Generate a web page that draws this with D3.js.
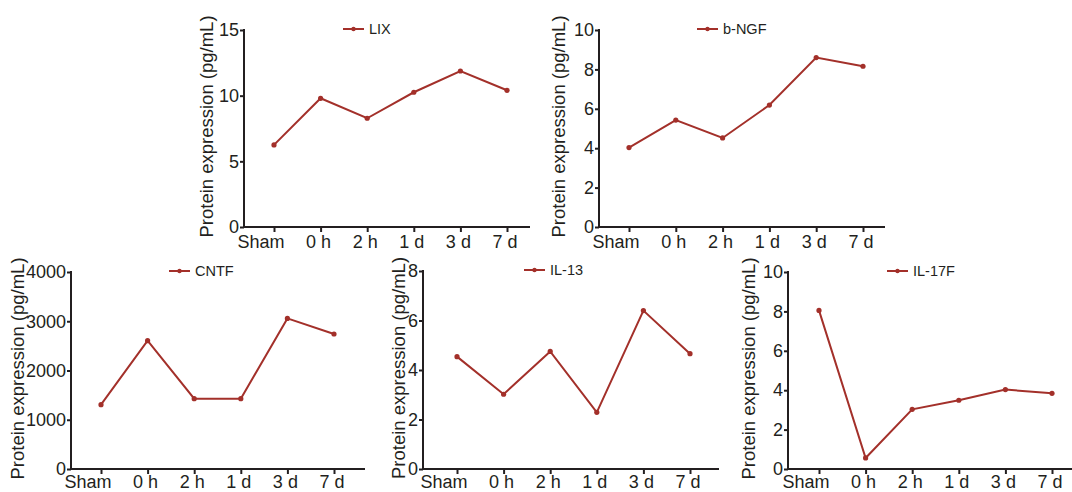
<!DOCTYPE html>
<html>
<head>
    <script src="https://d3js.org/d3.v7.min.js"></script>
    <style>
        body { margin: 0; background: #fff; }
        svg { display: block; }
        text { font-family: 'Liberation Sans', Arial, sans-serif; fill: #231f20; }
        .tick text { font-size: 18px; }
        .ylabel { font-size: 18.5px; }
        .legend text { font-size: 14.5px; }
    </style>
</head>
<body>
    <svg width="1072" height="492"></svg>
    <script>
        // time points shared by every panel
        const timepoints = ["Sham", "0 h", "2 h", "1 d", "3 d", "7 d"];

        // protein values (pg/mL)
        const lixValues  = [6.25, 9.8, 8.28, 10.26, 11.88, 10.41];
        const ngfValues  = [4.03, 5.43, 4.52, 6.19, 8.6, 8.16];
        const cntfValues = [1306, 2605, 1428, 1428, 3058, 2741];
        const il13Values = [4.54, 3.02, 4.75, 2.29, 6.4, 4.66];
        const il17Values = [8.05, 0.56, 3.03, 3.49, 4.03, 3.84];

        // y tick values
        const lixTicks  = [0, 5, 10, 15];
        const ngfTicks  = [0, 2, 4, 6, 8, 10];
        const cntfTicks = [0, 1000, 2000, 3000, 4000];
        const il13Ticks = [0, 2, 4, 6, 8];
        const il17Ticks = [0, 2, 4, 6, 8, 10];

        const lineColor = "#a3302a";
        const yLabel = "Protein expression (pg/mL)";

        // panel layout (pixel geometry) + which data goes where
        let panels = [
            {name: "LIX",   values: lixValues,  ticks: lixTicks,  max: 15,
             axisX: 244, top: 30, bottom: 227, first: 274, last: 507, end: 530, labelX: 213, legendX: 343, tickY: 21},
            {name: "b-NGF", values: ngfValues,  ticks: ngfTicks,  max: 10,
             axisX: 599, top: 30, bottom: 227, first: 629, last: 863, end: 885, labelX: 565, legendX: 697, tickY: 21},
            {name: "CNTF",  values: cntfValues, ticks: cntfTicks, max: 4000,
             axisX: 71, top: 272, bottom: 469, first: 101, last: 334, end: 365, labelX: 24, legendX: 169, tickY: 18.5},
            {name: "IL-13", values: il13Values, ticks: il13Ticks, max: 8,
             axisX: 423, top: 271, bottom: 469, first: 457, last: 690, end: 719, labelX: 405, legendX: 524, tickY: 18.5},
            {name: "IL-17F", values: il17Values, ticks: il17Ticks, max: 10,
             axisX: 788, top: 272, bottom: 469, first: 819, last: 1052, end: 1072, labelX: 755, legendX: 887, tickY: 18.5}
        ];

        let svg = d3.select("svg");

        panels.forEach(p => {
            let g = svg.append("g");

            let x = d3.scalePoint()
                      .domain(timepoints)
                      .range([p.first, p.last]);

            let y = d3.scaleLinear()
                      .domain([0, p.max])
                      .range([p.bottom, p.top]);

            // x axis (labels sit a little right of centre, end-anchored)
            let xa = g.append("g")
                      .attr("transform", `translate(0,${p.bottom})`)
                      .call(d3.axisBottom(x).tickSize(5));
            xa.select(".domain").remove();
            xa.selectAll(".tick line").attr("stroke", "#231f20").attr("stroke-width", 2);
            xa.selectAll(".tick text")
              .attr("fill", "#231f20")
              .attr("text-anchor", "end")
              .attr("x", 10)
              .attr("y", p.tickY)
              .attr("dy", 0);
            g.append("line")
             .attr("x1", p.axisX - 1).attr("x2", p.end)
             .attr("y1", p.bottom).attr("y2", p.bottom)
             .attr("stroke", "#231f20").attr("stroke-width", 2);

            // y axis (plain integers, no thousands comma)
            let ya = g.append("g")
                      .attr("transform", `translate(${p.axisX},0)`)
                      .call(d3.axisLeft(y).tickValues(p.ticks).tickFormat(d3.format("d"))
                              .tickSize(4).tickPadding(1));
            ya.select(".domain").remove();
            ya.selectAll(".tick line").attr("stroke", "#231f20").attr("stroke-width", 2);
            ya.selectAll(".tick text").attr("fill", "#231f20");
            g.append("line")
             .attr("x1", p.axisX).attr("x2", p.axisX)
             .attr("y1", p.top - 1).attr("y2", p.bottom + 1)
             .attr("stroke", "#231f20").attr("stroke-width", 2);

            // y axis label
            g.append("text")
             .attr("class", "ylabel")
             .attr("transform", `translate(${p.labelX},${(p.top + p.bottom) / 2 - 2}) rotate(-90)`)
             .attr("text-anchor", "middle")
             .text(yLabel);

            // data line
            let line = d3.line()
                         .x((d, i) => x(timepoints[i]))
                         .y(d => y(d));

            g.append("path")
             .datum(p.values)
             .attr("d", line)
             .attr("fill", "none")
             .attr("stroke", lineColor)
             .attr("stroke-width", 2);

            g.selectAll(".pt")
             .data(p.values)
             .enter().append("circle")
             .attr("cx", (d, i) => x(timepoints[i]))
             .attr("cy", d => y(d))
             .attr("r", 2.6)
             .attr("fill", lineColor);

            // legend
            let ly = p.top - 1;
            let lg = g.append("g").attr("class", "legend");
            lg.append("line")
              .attr("x1", p.legendX).attr("x2", p.legendX + 21)
              .attr("y1", ly).attr("y2", ly)
              .attr("stroke", lineColor).attr("stroke-width", 2);
            lg.append("circle")
              .attr("cx", p.legendX + 10.5).attr("cy", ly)
              .attr("r", 2.2).attr("fill", lineColor);
            lg.append("text")
              .attr("x", p.legendX + 26)
              .attr("y", ly)
              .attr("dy", "0.35em")
              .text(p.name);
        });
    </script>
</body>
</html>
